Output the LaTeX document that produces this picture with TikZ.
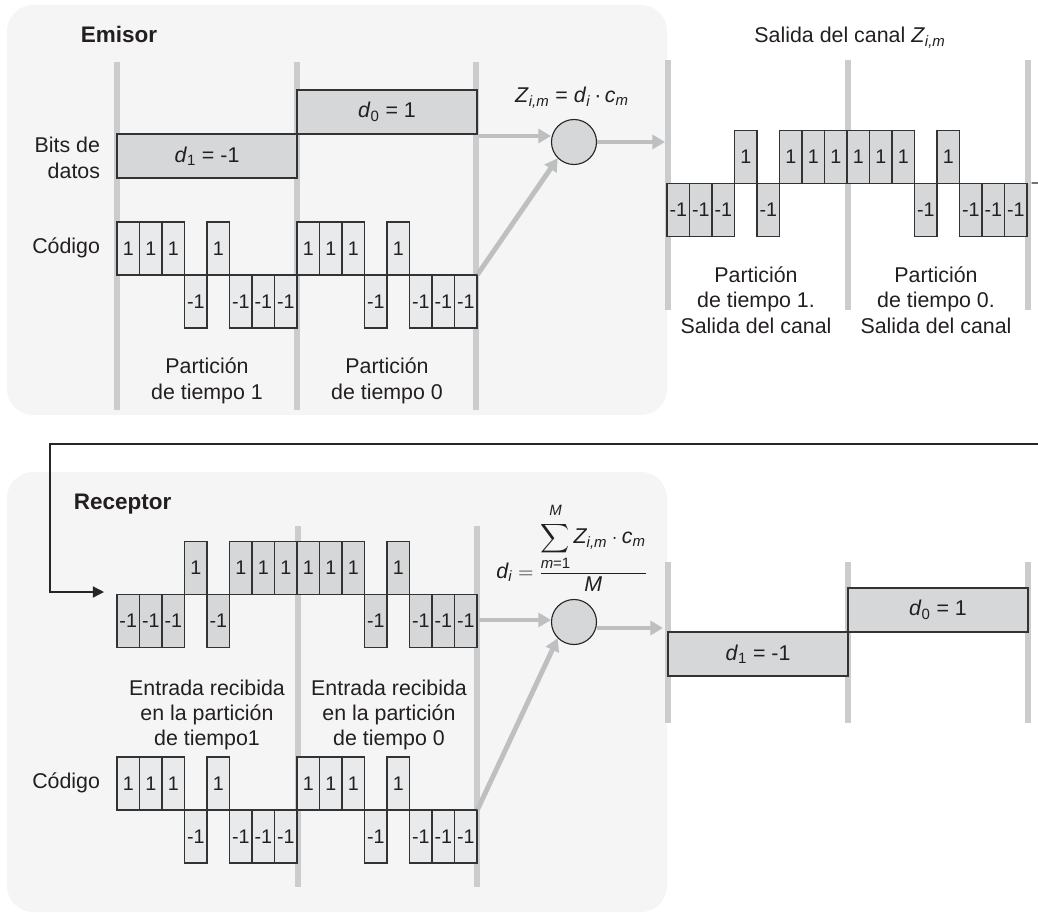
\documentclass[tikz,border=0pt]{standalone}
\usepackage{amsmath}
\usepackage{fontspec}
\setmainfont{Liberation Sans}
\usetikzlibrary{arrows.meta}

\definecolor{panelbg}{RGB}{245,245,245}
\definecolor{slotgray}{RGB}{203,204,206}
\definecolor{chiplight}{RGB}{233,234,235}
\definecolor{chipdark}{RGB}{214,215,217}
\definecolor{flowgray}{RGB}{190,191,193}
\definecolor{textdark}{RGB}{35,31,32}

\begin{document}
\begin{tikzpicture}[x=0.025cm,y=-0.025cm,
    font=\fontsize{15.2}{18}\selectfont,
    panel/.style={fill=panelbg,rounded corners=0.65cm},
    slot/.style={draw=slotgray,line width=3.6pt},
    chip/.style={draw=black!80,line width=0.8pt,minimum width=0.5625cm,minimum height=1.325cm,
      inner sep=0pt,text=textdark,font=\fontsize{14}{14}\selectfont},
    codechip/.style={chip,fill=chiplight},
    sigchip/.style={chip,fill=chipdark},
    bitbox/.style={draw=black!80,line width=0.8pt,fill=chipdark,minimum width=4.5cm,
      minimum height=1.1cm,inner sep=0pt,text=textdark},
    mixer/.style={circle,draw=black!85,line width=0.8pt,fill=chipdark,minimum size=1.125cm,inner sep=0pt},
    flow/.style={draw=flowgray,line width=3.5pt,-{Triangle[length=9pt,width=10pt]}},
    wire/.style={draw=black!85,line width=0.9pt},
    txt/.style={align=center,text=textdark},
    heading/.style={anchor=base west,text=textdark,font=\fontsize{16}{16}\selectfont\bfseries}]
  \useasboundingbox (0,0) rectangle (1038,913);

  \fill[panel] (7,5) rectangle (667,415);
  \fill[panel] (7,472) rectangle (667,912);

  \foreach \x in {117,297,476} \draw[slot] (\x,62) -- (\x,410);
  \foreach \x in {668,848,1028} \draw[slot] (\x,60) -- (\x,310);
  \foreach \x in {298,477} \draw[slot] (\x,526) -- (\x,887);
  \foreach \x in {668,848,1028} \draw[slot] (\x,562) -- (\x,723);

  \node[bitbox] (tx1) at (207,156) {\textit{d}\textsubscript{1} = -1};
  \node[bitbox] (tx0) at (387,112) {\textit{d}\textsubscript{0} = 1};
  \node[bitbox] (rx1) at (758,654) {\textit{d}\textsubscript{1} = -1};
  \node[bitbox] (rx0) at (938,610) {\textit{d}\textsubscript{0} = 1};

  \foreach \v [count=\k from 0] in {1,1,1,-1,1,-1,-1,-1,1,1,1,-1,1,-1,-1,-1}
    \node[codechip] (ec\k) at ({117+22.5*(\k+0.5)},{275-26.5*\v}) {\v};
  \foreach \v [count=\k from 0] in {-1,-1,-1,1,-1,1,1,1,1,1,1,-1,1,-1,-1,-1}
    \node[sigchip] (ch\k) at ({667+22.5*(\k+0.5)},{183.5-26.5*\v}) {\v};
  \foreach \v [count=\k from 0] in {-1,-1,-1,1,-1,1,1,1,1,1,1,-1,1,-1,-1,-1}
    \node[sigchip] (rs\k) at ({117+22.5*(\k+0.5)},{594.5-26.5*\v}) {\v};
  \foreach \v [count=\k from 0] in {1,1,1,-1,1,-1,-1,-1,1,1,1,-1,1,-1,-1,-1}
    \node[codechip] (rc\k) at ({117+22.5*(\k+0.5)},{810-26.5*\v}) {\v};

  \node[mixer] (mixA) at (574,142) {};
  \node[mixer] (mixB) at (574,622) {};

  \coordinate (inA) at (479,136);
  \coordinate (outA) at (665,142);
  \draw[flow] (inA) -- (inA -| mixA.west);
  \draw[flow] (ec15.north east) -- (mixA.225);
  \draw[flow] (mixA.east) -- (outA);

  \coordinate (inB) at (479,620);
  \coordinate (outB) at (663,628);
  \draw[flow] (inB) -- (inB -| mixB.west);
  \draw[flow] (rc15.north east) -- (mixB.225);
  \draw[flow] (mixB.east |- outB) -- (outB);

  \coordinate (chR) at (1038,183);
  \coordinate (lpR) at (1038,444);
  \coordinate (rsin) at (104,592);
  \draw[wire] ([xshift=0.1cm]ch15.north east) -- (chR);
  \draw[wire,-{Triangle[length=8pt,width=8pt]}] (lpR) -- (50,444) |- (rsin);

  \node[heading] (emisor) at (76,43) {Emisor};
  \node[heading] (receptor) at (69,509) {Receptor};
  \node[txt,align=right,anchor=east] (bitslbl) at (105,158) {Bits de\\datos};
  \node[txt,anchor=east] (codA) at (105,248) {Código};
  \node[txt,anchor=east] (codB) at (105,783) {Código};
  \node[txt] (partA1) at (207,381) {Partición\\de tiempo 1};
  \node[txt] (partA0) at (387,381) {Partición\\de tiempo 0};
  \node[txt] (zform) at (572,98)
    {\textit{Z}\textsubscript{\textit{i,m}} = \textit{d}\textsubscript{\textit{i}}\,·\,\textit{c}\textsubscript{\textit{m}}};
  \node[txt] (chtitle) at (850,38) {Salida del canal \textit{Z}\textsubscript{\textit{i,m}}};
  \node[txt] (chpart1) at (756,300) {Partición\\de tiempo 1.\\Salida del canal};
  \node[txt] (chpart0) at (936,300) {Partición\\de tiempo 0.\\Salida del canal};
  \node[txt] (inpart1) at (207,715) {Entrada recibida\\en la partición\\de tiempo1};
  \node[txt] (inpart0) at (389,715) {Entrada recibida\\en la partición\\de tiempo 0};
  \node[txt,anchor=base] (dform) at (572,578)
    {$\mathit{d}_{\mathit{i}} = \dfrac{\displaystyle\sum_{\text{\textit{m}=1}}^{\text{\raisebox{2pt}{\textit{M}}}}
      \mathit{Z}_{\text{\textit{i,m}}}\cdot\mathit{c}_{\text{\textit{m}}}}{\mathit{M}}$};
\end{tikzpicture}
\end{document}
